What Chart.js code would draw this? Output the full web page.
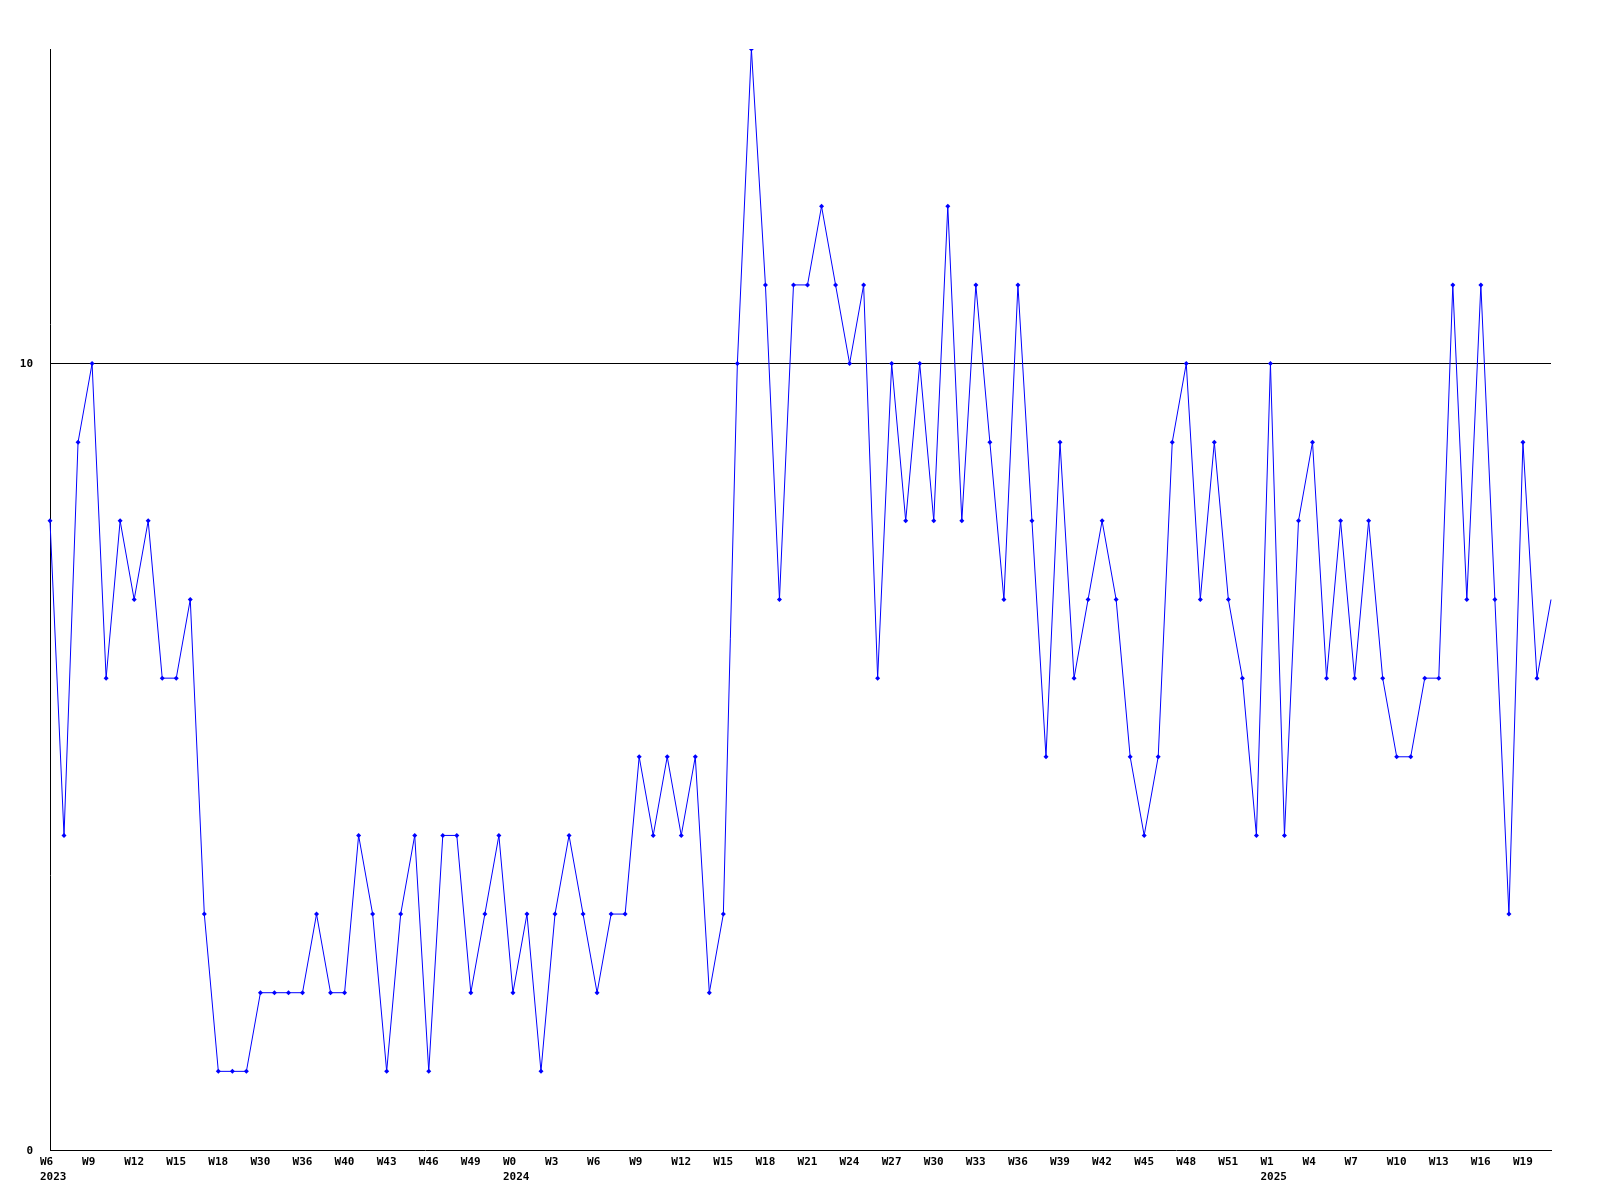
<!DOCTYPE html>
<html>
<head>
<meta charset="utf-8">
<script src="https://cdn.jsdelivr.net/npm/chart.js@4/dist/chart.umd.min.js"></script>
<style>
    body { margin: 0; background: #fff; }
    canvas { display: block; }
</style>
</head>
<body>
<canvas id="weeklyChart" width="1600" height="1200"></canvas>
<script>
// one value per week, oldest first
const weeklyValues = [
    8, 4, 9, 10, 6, 8, 7, 8, 6, 6, 7, 3, 1, 1, 1, 2, 2, 2, 2, 3,
    2, 2, 4, 3, 1, 3, 4, 1, 4, 4, 2, 3, 4, 2, 3, 1, 3, 4, 3, 2,
    3, 3, 5, 4, 5, 4, 5, 2, 3, 10, 14, 11, 7, 11, 11, 12, 11, 10, 11, 6,
    10, 8, 10, 8, 12, 8, 11, 9, 7, 11, 8, 5, 9, 6, 7, 8, 7, 5, 4, 5,
    9, 10, 7, 9, 7, 6, 4, 10, 4, 8, 9, 6, 8, 6, 8, 6, 5, 5, 6, 6,
    11, 7, 11, 7, 3, 9, 6, 7
];

// a tick label on every third week
const weekTicks = [
    'W6', 'W9', 'W12', 'W15', 'W18', 'W30', 'W36', 'W40', 'W43', 'W46', 'W49',
    'W0', 'W3', 'W6', 'W9', 'W12', 'W15', 'W18', 'W21', 'W24', 'W27', 'W30',
    'W33', 'W36', 'W39', 'W42', 'W45', 'W48', 'W51',
    'W1', 'W4', 'W7', 'W10', 'W13', 'W16', 'W19'
];
const yearTicks = ['2023', '', '', '', '', '', '', '', '', '', '',
    '2024', '', '', '', '', '', '', '', '', '', '', '', '', '', '', '', '', '',
    '2025', '', '', '', '', '', ''];
const tickEvery = 3;

const yTicks = [0, 10];
const yMax = 14;

const labelFont = { family: 'DejaVu Sans Mono', size: 11, weight: 'bold', lineHeight: 1.35 };

function xTickLabel(value, index) {
    if (index % tickEvery !== 0) return '';
    const n = index / tickEvery;
    if (n >= weekTicks.length) return '';
    return yearTicks[n] ? [weekTicks[n], yearTicks[n]] : weekTicks[n];
}

const ctx = document.getElementById('weeklyChart');
new Chart(ctx, {
    type: 'line',
    data: {
        labels: weeklyValues.map((_, i) => i),
        datasets: [{
            data: weeklyValues,
            borderColor: '#0000ff',
            backgroundColor: '#0000ff',
            borderWidth: 1,
            tension: 0,
            fill: false,
            pointStyle: 'rectRot',
            pointRadius: c => c.dataIndex === weeklyValues.length - 1 ? 0 : 2.5,
            pointBorderWidth: 0
        }]
    },
    options: {
        responsive: false,
        animation: false,
        layout: {
            padding: { top: 49, right: 49, left: 0, bottom: 0 }
        },
        plugins: {
            legend: { display: false },
            tooltip: { enabled: false }
        },
        scales: {
            x: {
                grid: { display: false, drawTicks: false },
                border: { color: '#000', width: 1 },
                afterFit: scale => { scale.height = 50; },
                ticks: {
                    autoSkip: false,
                    maxRotation: 0,
                    align: 'start',
                    labelOffset: -10,
                    padding: 5,
                    color: '#000',
                    font: labelFont,
                    callback: xTickLabel
                }
            },
            y: {
                min: 0,
                max: yMax,
                afterFit: scale => { scale.width = 50; },
                afterBuildTicks: scale => { scale.ticks = yTicks.map(v => ({ value: v })); },
                grid: {
                    drawTicks: false,
                    color: c => c.tick && c.tick.value === 10 ? '#000' : 'rgba(0,0,0,0)'
                },
                border: { color: '#000', width: 1 },
                ticks: {
                    padding: 17,
                    labelOffset: 1,
                    color: '#000',
                    font: labelFont
                }
            }
        }
    }
});
</script>
</body>
</html>
